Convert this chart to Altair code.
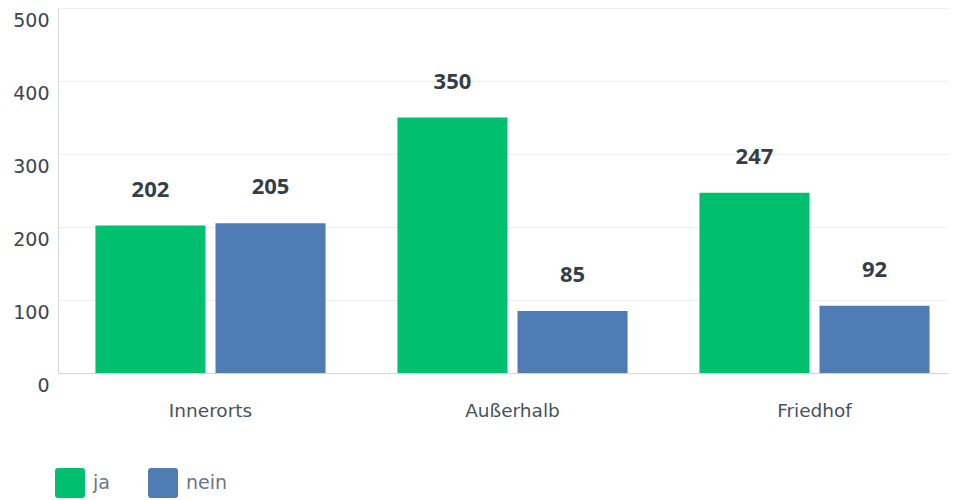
import altair as alt
import pandas as pd

categories = ["Innerorts", "Außerhalb", "Friedhof"]
series = ["ja", "nein"]
ja_values = [202, 350, 247]
nein_values = [205, 85, 92]
colors = ["#00BF6F", "#507CB6"]
y_ticks = [0, 100, 200, 300, 400, 500]

rows = []
for c, j, n in zip(categories, ja_values, nein_values):
    rows.append({"Kategorie": c, "Antwort": series[0], "Wert": j})
    rows.append({"Kategorie": c, "Antwort": series[1], "Wert": n})
df = pd.DataFrame(rows)

FONT = "DejaVu Sans"
BOLD_FONT = "Open Sans"
rounded_square = "M-0.8,-1H0.8Q1,-1,1,-0.8V0.8Q1,1,0.8,1H-0.8Q-1,1,-1,0.8V-0.8Q-1,-1,-0.8,-1Z"

x_enc = alt.X(
    "Kategorie:N",
    sort=categories,
    scale=alt.Scale(paddingInner=0.238, paddingOuter=0.0925, align=0.67),
    axis=alt.Axis(
        title=None, labelAngle=0, ticks=False, domainColor="#d3d5d7",
        labelPadding=28, labelFontSize=18.5, labelColor="#48525e", labelFont=FONT,
    ),
)
xoff_enc = alt.XOffset(
    "Antwort:N", sort=series, scale=alt.Scale(paddingInner=0.0833, paddingOuter=0)
)
y_enc = alt.Y(
    "Wert:Q",
    scale=alt.Scale(domain=[0, 500], nice=False),
    axis=alt.Axis(
        title=None, values=y_ticks, ticks=False, domain=True, domainColor="#d3d5d7",
        gridColor="#eeeff0", labelFontSize=19, labelColor="#3b4550", labelFont=FONT,
        labelPadding=9, labelOffset=12,
    ),
)

bars = alt.Chart(df).mark_bar().encode(
    x=x_enc,
    xOffset=xoff_enc,
    y=y_enc,
    color=alt.Color(
        "Antwort:N",
        sort=series,
        scale=alt.Scale(domain=series, range=colors),
        legend=alt.Legend(
            title=None, orient="none", legendX=-3, legendY=460, direction="horizontal",
            symbolType=rounded_square, symbolSize=900, symbolStrokeWidth=0,
            symbolOpacity=1, labelFontSize=19, labelColor="#6b7683", labelFont=FONT,
            labelOffset=8, columnPadding=38, padding=0,
        ),
    ),
)

labels = alt.Chart(df).mark_text(
    dy=-24, baseline="bottom", fontSize=22, fontWeight="bold", color="#333e48", font=BOLD_FONT
).encode(
    x=alt.X("Kategorie:N", sort=categories),
    xOffset=alt.XOffset("Antwort:N", sort=series),
    y=alt.Y("Wert:Q"),
    text=alt.Text("Wert:Q"),
)

chart = (
    alt.layer(bars, labels)
    .properties(width=890, height=365, padding={"left": 4, "top": 0, "right": 0, "bottom": 0})
    .configure_view(stroke=None)
)

chart.save("out.html", embed_options={"renderer": "svg", "actions": False})
